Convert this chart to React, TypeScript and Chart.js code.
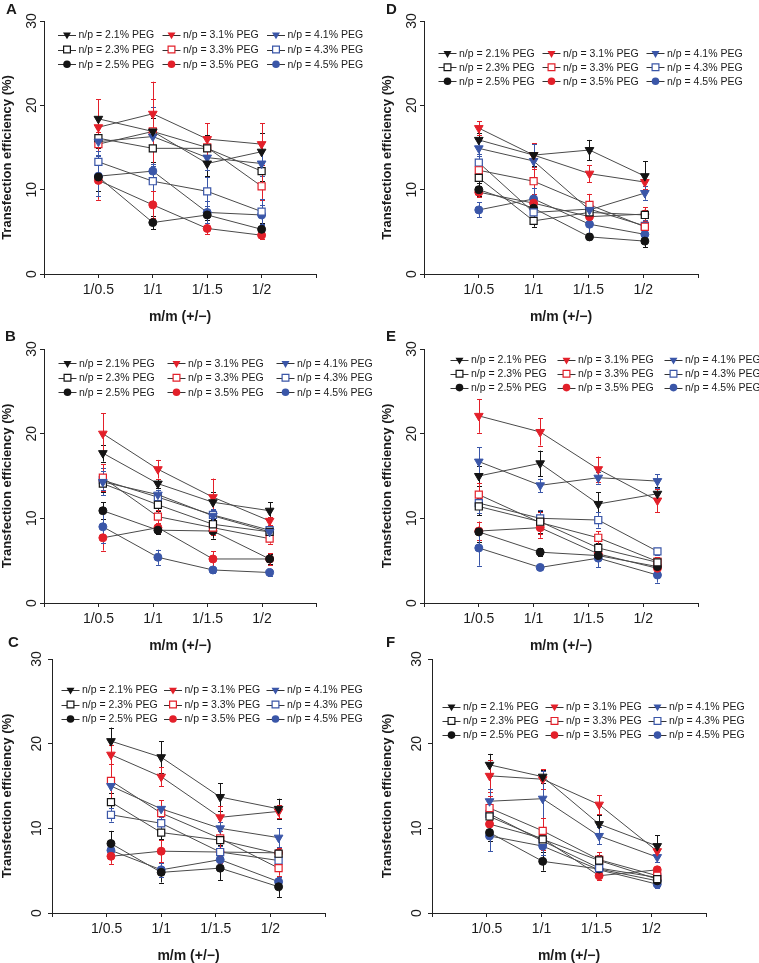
import React, { useEffect, useRef } from 'react';
import { Chart, registerables } from 'chart.js';

Chart.register(...registerables);

// ---------- data ----------
const categories = ['1/0.5', '1/1', '1/1.5', '1/2'];
const categoryTicks = [1, 2, 3, 4];
const yTicks = [0, 10, 20, 30];
const seriesLabels = [
  'n/p = 2.1% PEG', 'n/p = 3.1% PEG', 'n/p = 4.1% PEG',
  'n/p = 2.3% PEG', 'n/p = 3.3% PEG', 'n/p = 4.3% PEG',
  'n/p = 2.5% PEG', 'n/p = 3.5% PEG', 'n/p = 4.5% PEG',
];
const xTitle = 'm/m (+/\u2212)';
const yTitle = 'Transfection efficiency (%)';

const xA = [1, 2, 3, 4];
const meansA = [
  [18.4, 16.9, 13.1, 14.5],
  [17.4, 19.0, 16.0, 15.4],
  [15.7, 16.3, 13.8, 13.1],
  [16.1, 14.9, 14.9, 12.2],
  [15.4, 16.9, 15.0, 10.4],
  [13.3, 11.0, 9.8, 7.4],
  [11.5, 6.1, 7.0, 5.3],
  [11.1, 8.2, 5.4, 4.6],
  [11.6, 12.2, 7.3, 7.0],
];
const errorsA = [
  [2.3, 1.6, 1.5, 2.2],
  [3.3, 3.8, 1.9, 2.5],
  [1.6, 3.5, 1.5, 1.5],
  [1.2, 1.6, 1.6, 1.2],
  [1.4, 3.8, 1.2, 1.6],
  [1.3, 1.2, 1.7, 1.5],
  [1.6, 0.8, 0.6, 0.7],
  [2.3, 1.6, 0.7, 0.4],
  [2.4, 0.9, 1.3, 1.2],
];

const xB = [1.08, 2.09, 3.1, 4.14];
const meansB = [
  [17.7, 14.1, 11.9, 10.9],
  [20.0, 15.8, 12.5, 9.7],
  [14.3, 12.8, 10.3, 8.4],
  [14.1, 11.6, 9.3, 8.4],
  [14.8, 10.2, 8.9, 7.6],
  [14.5, 12.5, 10.4, 8.6],
  [10.9, 8.6, 8.5, 5.2],
  [7.7, 8.9, 5.2, 5.2],
  [9.0, 5.4, 3.9, 3.6],
];
const errorsB = [
  [1.0, 0.5, 1.2, 1.0],
  [2.4, 1.1, 2.2, 0.5],
  [1.6, 0.6, 0.7, 0.5],
  [1.0, 0.7, 0.6, 0.5],
  [1.6, 0.8, 0.9, 0.6],
  [1.1, 0.8, 0.7, 0.5],
  [1.0, 0.5, 0.9, 0.6],
  [1.5, 0.6, 0.9, 0.7],
  [1.9, 0.9, 0.4, 0.4],
];

const xC = [1.08, 2.0, 3.08, 4.15];
const meansC = [
  [20.3, 18.4, 13.7, 12.3],
  [18.7, 16.1, 11.3, 12.0],
  [15.0, 12.3, 10.0, 8.9],
  [13.1, 9.5, 8.6, 7.0],
  [15.6, 11.8, 8.8, 5.3],
  [11.6, 10.6, 7.2, 6.2],
  [8.2, 4.8, 5.3, 3.1],
  [6.7, 7.3, 7.2, 7.1],
  [7.4, 5.1, 6.3, 3.7],
];
const errorsC = [
  [1.6, 1.9, 1.6, 1.2],
  [1.1, 1.1, 1.3, 0.8],
  [2.6, 1.0, 0.8, 1.1],
  [1.1, 0.8, 0.6, 0.7],
  [2.0, 1.5, 0.9, 0.9],
  [0.8, 0.9, 0.7, 0.7],
  [1.5, 1.2, 1.4, 1.2],
  [0.9, 1.3, 1.3, 0.6],
  [0.9, 0.8, 0.7, 0.6],
];

const xD = [1, 2, 3.02, 4.03];
const meansD = [
  [15.9, 14.1, 14.7, 11.6],
  [17.3, 14.1, 11.9, 10.9],
  [14.9, 13.4, 7.6, 9.6],
  [11.4, 6.3, 7.3, 7.0],
  [12.3, 11.0, 8.2, 5.6],
  [13.2, 7.3, 7.7, 5.7],
  [10.0, 7.8, 4.4, 3.9],
  [9.7, 8.4, 6.8, 7.1],
  [7.6, 8.9, 5.9, 4.7],
];
const errorsD = [
  [0.8, 1.3, 1.2, 1.8],
  [0.8, 1.4, 1.0, 0.8],
  [0.9, 2.0, 1.0, 0.8],
  [1.0, 0.7, 0.6, 0.6],
  [1.2, 1.5, 1.3, 0.8],
  [1.0, 0.8, 0.8, 0.7],
  [0.8, 0.6, 0.3, 0.7],
  [0.6, 0.8, 0.8, 0.8],
  [0.9, 1.3, 1.0, 0.8],
];

const xE = [1.0, 2.12, 3.18, 4.26];
const meansE = [
  [15.0, 16.5, 11.7, 12.9],
  [22.1, 20.2, 15.8, 12.1],
  [16.7, 13.9, 14.8, 14.4],
  [11.4, 9.6, 6.5, 4.8],
  [12.8, 9.5, 7.7, 4.9],
  [11.8, 10.0, 9.8, 6.1],
  [8.4, 6.0, 5.6, 4.3],
  [8.5, 8.9, 5.8, 4.1],
  [6.5, 4.2, 5.3, 3.3],
];
const errorsE = [
  [1.2, 1.5, 1.4, 0.8],
  [2.0, 1.6, 1.5, 1.4],
  [1.7, 0.8, 0.7, 0.8],
  [1.0, 1.3, 0.6, 0.5],
  [1.4, 1.3, 0.8, 0.5],
  [1.2, 1.0, 0.9, 0.4],
  [1.2, 0.5, 0.4, 0.3],
  [1.1, 1.2, 0.5, 0.4],
  [2.1, 0.3, 1.1, 0.9],
];

const xF = [1.05, 2.02, 3.05, 4.11];
const meansF = [
  [17.5, 16.1, 10.5, 7.9],
  [16.2, 15.8, 12.8, 7.3],
  [13.2, 13.5, 9.1, 6.6],
  [11.4, 8.7, 6.2, 4.0],
  [12.4, 9.7, 6.3, 4.4],
  [11.7, 8.5, 5.3, 4.2],
  [9.5, 6.1, 5.2, 3.8],
  [10.5, 8.8, 4.4, 5.1],
  [9.1, 7.9, 5.1, 3.4],
];
const errorsF = [
  [1.3, 0.8, 1.1, 1.3],
  [1.9, 1.2, 1.1, 0.6],
  [1.5, 3.3, 1.0, 0.6],
  [1.0, 0.8, 0.6, 0.5],
  [1.4, 1.5, 0.9, 0.5],
  [1.2, 1.0, 0.7, 0.5],
  [1.0, 1.1, 0.6, 0.5],
  [1.0, 1.4, 0.5, 0.4],
  [1.8, 1.0, 0.6, 0.4],
];

// ---------- styles ----------
const BLACK = '#141414';
const RED = '#e3202a';
const BLUE = '#3a56a8';
const SERIES_STYLE = [
  { color: BLACK, shape: 'tri' }, { color: RED, shape: 'tri' }, { color: BLUE, shape: 'tri' },
  { color: BLACK, shape: 'sq' }, { color: RED, shape: 'sq' }, { color: BLUE, shape: 'sq' },
  { color: BLACK, shape: 'circ' }, { color: RED, shape: 'circ' }, { color: BLUE, shape: 'circ' },
];
const FONT = '"Liberation Sans", Arial, Helvetica, sans-serif';
const TEXT = '#1a1a1a';
const AXIS = '#222222';

type Panel = {
  letter: string; means: number[][]; errors: number[][]; xs: number[];
  box: { left: number; top: number; w: number; h: number };
  area: { l: number; t: number; r: number; b: number };
  letterPos: { x: number; y: number };
  legend: { x: number; y: number; col: number; row: number };
  yLabOff: number;
};

const PANELS: Panel[] = [
  { letter: 'A', means: meansA, errors: errorsA, xs: xA,
    box: { left: 0, top: 0, w: 380, h: 335 }, area: { l: 44, t: 21, r: 316, b: 274 },
    letterPos: { x: 6, y: 13.5 }, legend: { x: 58, y: 34.7, col: 104.5, row: 14.8 }, yLabOff: 12 },
  { letter: 'B', means: meansB, errors: errorsB, xs: xB,
    box: { left: 0, top: 320, w: 380, h: 335 }, area: { l: 44, t: 349, r: 316.5, b: 603 },
    letterPos: { x: 5, y: 340.7 }, legend: { x: 58.5, y: 363.3, col: 109, row: 14.5 }, yLabOff: 12 },
  { letter: 'C', means: meansC, errors: errorsC, xs: xC,
    box: { left: 0, top: 628, w: 380, h: 335 }, area: { l: 52, t: 659, r: 325, b: 913 },
    letterPos: { x: 8, y: 647 }, legend: { x: 61.5, y: 690, col: 102.5, row: 14.5 }, yLabOff: 15 },
  { letter: 'D', means: meansD, errors: errorsD, xs: xD,
    box: { left: 380, top: 0, w: 379, h: 335 }, area: { l: 424, t: 21, r: 698, b: 274 },
    letterPos: { x: 386, y: 13.5 }, legend: { x: 438.5, y: 53.3, col: 104, row: 14 }, yLabOff: 12 },
  { letter: 'E', means: meansE, errors: errorsE, xs: xE,
    box: { left: 380, top: 320, w: 379, h: 335 }, area: { l: 424, t: 349, r: 698, b: 603 },
    letterPos: { x: 386, y: 340.7 }, legend: { x: 450.5, y: 360, col: 107, row: 13.8 }, yLabOff: 12 },
  { letter: 'F', means: meansF, errors: errorsF, xs: xF,
    box: { left: 380, top: 628, w: 379, h: 335 }, area: { l: 432, t: 659, r: 706, b: 913 },
    letterPos: { x: 386, y: 647 }, legend: { x: 442.5, y: 706.7, col: 103, row: 14.2 }, yLabOff: 15 },
];

function drawMarker(ctx: CanvasRenderingContext2D, shape: string, color: string, x: number, y: number) {
  ctx.save();
  ctx.lineWidth = 1.2;
  ctx.strokeStyle = color;
  ctx.fillStyle = color;
  ctx.beginPath();
  if (shape === 'tri') {
    const r = 4.6;
    ctx.moveTo(x, y + r);
    ctx.lineTo(x - r * 0.866, y - r / 2);
    ctx.lineTo(x + r * 0.866, y - r / 2);
    ctx.closePath();
    ctx.fill();
  } else if (shape === 'sq') {
    const s = 3.4;
    ctx.rect(x - s, y - s, 2 * s, 2 * s);
    ctx.fillStyle = '#ffffff';
    ctx.fill();
    ctx.stroke();
  } else {
    ctx.arc(x, y, 3.8, 0, Math.PI * 2);
    ctx.fill();
  }
  ctx.restore();
}

function makePlugin(p: Panel) {
  const ox = p.box.left;
  const oy = p.box.top;
  return {
    id: 'decor' + p.letter,
    beforeDatasetsDraw(chart: any) {
      const ctx = chart.ctx as CanvasRenderingContext2D;
      const xs = chart.scales.x;
      const ys = chart.scales.y;
      ctx.save();
      ctx.lineWidth = 1;
      p.means.forEach((row, i) => {
        ctx.strokeStyle = SERIES_STYLE[i].color;
        row.forEach((v, j) => {
          const e = p.errors[i][j];
          const px = Math.round(xs.getPixelForValue(p.xs[j])) + 0.5;
          const y1 = ys.getPixelForValue(v + e);
          const y2 = ys.getPixelForValue(v - e);
          ctx.beginPath();
          ctx.moveTo(px, y1);
          ctx.lineTo(px, y2);
          ctx.moveTo(px - 2.5, Math.round(y1) + 0.5);
          ctx.lineTo(px + 2.5, Math.round(y1) + 0.5);
          ctx.moveTo(px - 2.5, Math.round(y2) + 0.5);
          ctx.lineTo(px + 2.5, Math.round(y2) + 0.5);
          ctx.stroke();
        });
      });
      ctx.restore();
    },
    afterDraw(chart: any) {
      const ctx = chart.ctx as CanvasRenderingContext2D;
      const xs = chart.scales.x;
      const ys = chart.scales.y;
      const area = chart.chartArea;
      ctx.save();
      ctx.fillStyle = TEXT;
      // panel letter
      ctx.font = `bold 15px ${FONT}`;
      ctx.textAlign = 'left';
      ctx.textBaseline = 'alphabetic';
      ctx.fillText(p.letter, p.letterPos.x - ox, p.letterPos.y - oy);
      // y tick labels (rotated)
      ctx.font = `14px ${FONT}`;
      ctx.textAlign = 'center';
      ctx.textBaseline = 'middle';
      yTicks.forEach((t) => {
        ctx.save();
        ctx.translate(area.left - p.yLabOff, ys.getPixelForValue(t));
        ctx.rotate(-Math.PI / 2);
        ctx.fillText(String(t), 0, 0);
        ctx.restore();
      });
      // x tick labels
      categories.forEach((c, k) => {
        ctx.fillText(c, xs.getPixelForValue(categoryTicks[k]), area.bottom + 16.5);
      });
      // axis titles
      ctx.font = `bold 14px ${FONT}`;
      ctx.fillText(xTitle, (area.left + area.right) / 2, area.bottom + 43.5);
      ctx.save();
      ctx.font = `bold 13px ${FONT}`;
      ctx.translate(7.8, (area.top + area.bottom) / 2 + 10);
      ctx.rotate(-Math.PI / 2);
      ctx.fillText(yTitle, 0, 0);
      ctx.restore();
      // legend
      ctx.font = `10.5px ${FONT}`;
      ctx.textAlign = 'left';
      seriesLabels.forEach((lab, i) => {
        const col = i % 3;
        const row = Math.floor(i / 3);
        const x = p.legend.x - ox + col * p.legend.col;
        const y = p.legend.y - oy + row * p.legend.row;
        ctx.strokeStyle = '#333333';
        ctx.lineWidth = 1;
        ctx.beginPath();
        ctx.moveTo(x, Math.round(y) + 0.5);
        ctx.lineTo(x + 18, Math.round(y) + 0.5);
        ctx.stroke();
        drawMarker(ctx, SERIES_STYLE[i].shape, SERIES_STYLE[i].color, x + 9, y);
        ctx.fillStyle = TEXT;
        ctx.fillText(lab, x + 20.5, y + 0.5);
      });
      ctx.restore();
    },
  };
}

function PanelChart({ p }: { p: Panel }) {
  const ref = useRef<HTMLCanvasElement | null>(null);
  useEffect(() => {
    if (!ref.current) return;
    const ox = p.box.left;
    const oy = p.box.top;
    const datasets = p.means.map((row, i) => {
      const st = SERIES_STYLE[i];
      const isTri = st.shape === 'tri';
      const isSq = st.shape === 'sq';
      return {
        label: seriesLabels[i],
        data: row.map((v, j) => ({ x: p.xs[j], y: v })),
        borderColor: '#4a4a4a',
        borderWidth: 1,
        pointStyle: isTri ? 'triangle' : isSq ? 'rect' : 'circle',
        pointRotation: isTri ? 180 : 0,
        pointRadius: isTri ? 5.0 : isSq ? 5.0 : 4.0,
        pointBackgroundColor: isSq ? '#ffffff' : st.color,
        pointBorderColor: st.color,
        pointBorderWidth: isSq ? 1.2 : 1,
        fill: false,
        tension: 0,
      };
    });
    const gridCommon = {
      display: true,
      drawOnChartArea: false,
      drawTicks: true,
      tickLength: 4,
      color: AXIS,
      tickColor: AXIS,
      tickWidth: 1,
    };
    const chart = new Chart(ref.current, {
      type: 'line',
      data: { datasets } as any,
      options: {
        animation: false,
        responsive: false,
        maintainAspectRatio: false,
        devicePixelRatio: 1,
        layout: {
          padding: {
            left: p.area.l - ox,
            top: p.area.t - oy,
            right: ox + p.box.w - p.area.r,
            bottom: oy + p.box.h - p.area.b,
          },
        },
        plugins: { legend: { display: false }, tooltip: { enabled: false } },
        scales: {
          x: {
            type: 'linear', min: 0, max: 5,
            afterFit: (s: any) => { s.height = 0; },
            ticks: { display: false, stepSize: 1 },
            grid: gridCommon,
            border: { display: true, color: AXIS, width: 1 },
          },
          y: {
            type: 'linear', min: 0, max: 30,
            afterFit: (s: any) => { s.width = 0; },
            ticks: { display: false, stepSize: 10 },
            grid: gridCommon,
            border: { display: true, color: AXIS, width: 1 },
          },
        },
      } as any,
      plugins: [makePlugin(p)],
    });
    return () => chart.destroy();
  }, [p]);
  return (
    <canvas
      ref={ref}
      width={p.box.w}
      height={p.box.h}
      style={{ position: 'absolute', left: p.box.left, top: p.box.top, width: p.box.w, height: p.box.h }}
    />
  );
}

export default function App() {
  return (
    <div style={{ position: 'absolute', left: 0, top: 0, width: 759, height: 963, background: '#ffffff', overflow: 'hidden' }}>
      {PANELS.map((p) => (
        <PanelChart key={p.letter} p={p} />
      ))}
    </div>
  );
}
